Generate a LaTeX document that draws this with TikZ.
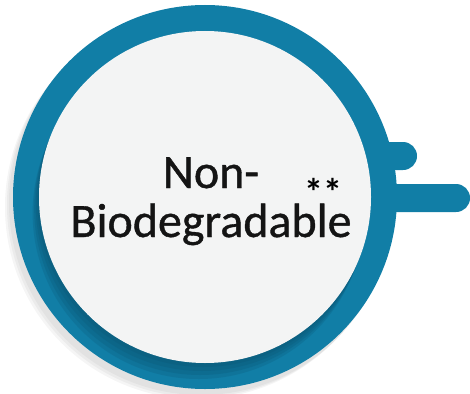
\documentclass[tikz,border=0pt]{standalone}
\usepackage{fontspec}
\setmainfont{Carlito}
\newfontfamily\heavyfont{Carlito}[FakeBold=0.8]
\definecolor{ringblue}{RGB}{17,126,166}
\definecolor{shadeblue}{RGB}{8,78,108}
\definecolor{facegray}{RGB}{243,244,244}
\definecolor{inkgray}{RGB}{20,20,20}
\begin{document}
\begin{tikzpicture}[
    x=1pt, y=-1pt,
    ringdisc/.style={circle, fill=ringblue, minimum size=384pt, inner sep=0pt},
    facedisc/.style={circle, fill=facegray, minimum size=332pt, inner sep=0pt},
    tab/.style={fill=ringblue, rounded corners=14pt},
    wordtext/.style={font=\heavyfont\fontsize{48}{52}\selectfont, text=inkgray, anchor=base, inner sep=0pt},
    startext/.style={font=\bfseries\fontsize{38}{40}\selectfont, text=black, anchor=base, inner sep=0pt},
  ]
  \useasboundingbox (0,0) rectangle (470,393);
  % faint drop shadow of the whole disc
  \foreach \s in {0,2,4} {
    \fill[black, opacity=0.04] (201-\s,203+\s) circle (192pt);
  }
  \node[ringdisc] (ring) at (205,197) {};
  % tabs on the right
  \fill[tab] (370,142) -- (417,142) -- (417,170) -- (370,170) -- cycle;
  \fill[tab] (370,184) -- (470,184) -- (470,212) -- (370,212) -- cycle;
  % shadow of the face on the ring
  \begin{scope}
    \clip (ring.center) circle (192pt);
    \foreach \s in {4,8,12,16} {
      \fill[shadeblue, opacity=0.2] (205-0.4*\s,197+\s) circle (166pt);
    }
  \end{scope}
  \node[facedisc] (face) at (205,197) {};
  \node[wordtext] (top) at (211,188) {Non-};
  \node[wordtext] (bottom) at (211,237) {Biodegradable};
  \node[startext] (stars) at (323,205) {**};
\end{tikzpicture}
\end{document}
